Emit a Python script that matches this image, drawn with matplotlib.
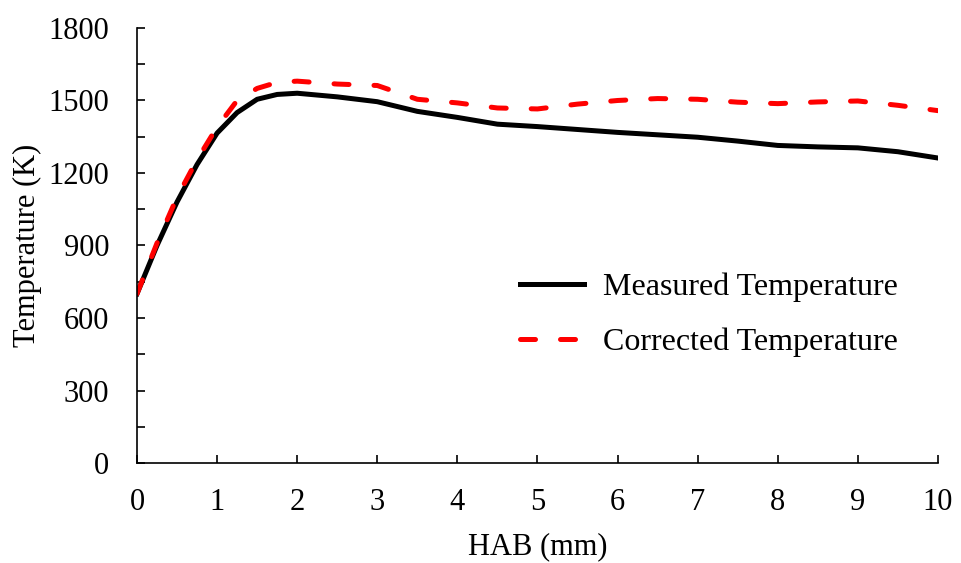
import matplotlib.pyplot as plt
from matplotlib.ticker import MultipleLocator

# HAB positions (mm) and temperatures (K)
hab = [0, 0.25, 0.5, 0.75, 1, 1.25, 1.5, 1.75, 2, 2.5, 3, 3.5, 4, 4.5,
       5, 5.5, 6, 6.5, 7, 7.5, 8, 8.5, 9, 9.5, 10]
measured = [700, 900, 1080, 1235, 1365, 1450, 1505, 1525, 1530, 1515, 1495,
            1455, 1430, 1402, 1392, 1380, 1368, 1358, 1348, 1332, 1314,
            1308, 1304, 1288, 1262]
corrected = [700, 910, 1100, 1255, 1390, 1500, 1550, 1575, 1580, 1568, 1562,
             1505, 1490, 1469, 1465, 1485, 1500, 1508, 1505, 1493, 1487,
             1494, 1498, 1480, 1458]

plt.rcParams['font.family'] = ['Liberation Serif', 'DejaVu Serif']

fig = plt.figure(figsize=(9.62, 5.63), dpi=100)
ax = fig.add_axes([0.1424, 0.1776, 0.8326, 0.7727])

ax.plot(hab, measured, color='black', lw=3.6, label='Measured Temperature')
ax.plot(hab, corrected, color='red', lw=3.6, dashes=(3.0, 5.0),
        dash_capstyle='round', label='Corrected Temperature')

ax.set_xlim(0, 10)
ax.set_ylim(0, 1800)
ax.xaxis.set_major_locator(MultipleLocator(1))
ax.yaxis.set_major_locator(MultipleLocator(300))
ax.yaxis.set_minor_locator(MultipleLocator(150))
ax.tick_params(axis='x', direction='in', length=6, width=1.2, labelsize=22, pad=18)
ax.tick_params(axis='y', which='both', direction='in', length=6, width=1.2,
               labelsize=22, pad=20)
ax.spines['top'].set_visible(False)
ax.spines['right'].set_visible(False)
ax.spines['left'].set_linewidth(1.2)
ax.spines['bottom'].set_linewidth(1.2)

ax.set_xlabel('HAB (mm)', fontsize=22, labelpad=11)
ax.set_ylabel('Temperature (K)', fontsize=22, labelpad=5)

ax.legend(loc='center left', bbox_to_anchor=(0.478, 0.34), frameon=False,
          fontsize=23, handlelength=2.0, labelspacing=0.8, handletextpad=0.6,
          borderpad=0, borderaxespad=0)

fig.savefig('out.png', dpi=100)
